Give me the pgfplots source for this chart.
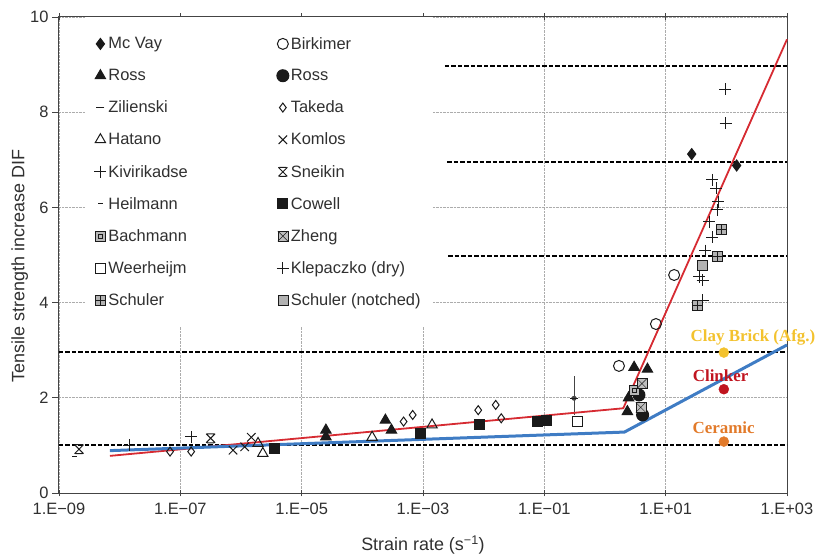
\documentclass[border=0pt]{standalone}
\usepackage{pgfplots}
\pgfplotsset{compat=1.18}
\usepackage{fontspec}
\setmainfont{Liberation Sans}
\newfontfamily\serifb{Liberation Serif}
\usetikzlibrary{plotmarks}

\definecolor{axgray}{HTML}{444444}
\definecolor{txtgray}{HTML}{303030}
\definecolor{redl}{HTML}{D62B32}
\definecolor{bluel}{HTML}{3F7CC4}
\definecolor{goldc}{HTML}{F3C22E}
\definecolor{clink}{HTML}{C0141F}
\definecolor{ceram}{HTML}{E27A2A}
\definecolor{mk}{HTML}{1A1A1A}

\pgfdeclareplotmark{sneikin}{%
  \pgfpathmoveto{\pgfqpoint{-\pgfplotmarksize}{-\pgfplotmarksize}}%
  \pgfpathlineto{\pgfqpoint{\pgfplotmarksize}{\pgfplotmarksize}}%
  \pgfpathmoveto{\pgfqpoint{-\pgfplotmarksize}{\pgfplotmarksize}}%
  \pgfpathlineto{\pgfqpoint{\pgfplotmarksize}{-\pgfplotmarksize}}%
  \pgfpathmoveto{\pgfqpoint{-0.8\pgfplotmarksize}{\pgfplotmarksize}}%
  \pgfpathlineto{\pgfqpoint{0.8\pgfplotmarksize}{\pgfplotmarksize}}%
  \pgfpathmoveto{\pgfqpoint{-0.8\pgfplotmarksize}{-\pgfplotmarksize}}%
  \pgfpathlineto{\pgfqpoint{0.8\pgfplotmarksize}{-\pgfplotmarksize}}%
  \pgfusepathqstroke}
\pgfdeclareplotmark{schuler}{%
  \pgfpathrectangle{\pgfqpoint{-\pgfplotmarksize}{-\pgfplotmarksize}}{\pgfqpoint{2\pgfplotmarksize}{2\pgfplotmarksize}}%
  \pgfusepathqfillstroke
  \pgfpathmoveto{\pgfqpoint{-\pgfplotmarksize}{0pt}}\pgfpathlineto{\pgfqpoint{\pgfplotmarksize}{0pt}}%
  \pgfpathmoveto{\pgfqpoint{0pt}{-\pgfplotmarksize}}\pgfpathlineto{\pgfqpoint{0pt}{\pgfplotmarksize}}%
  \pgfusepathqstroke}
\pgfdeclareplotmark{zheng}{%
  \pgfpathrectangle{\pgfqpoint{-\pgfplotmarksize}{-\pgfplotmarksize}}{\pgfqpoint{2\pgfplotmarksize}{2\pgfplotmarksize}}%
  \pgfusepathqfillstroke
  \pgfpathmoveto{\pgfqpoint{-\pgfplotmarksize}{-\pgfplotmarksize}}\pgfpathlineto{\pgfqpoint{\pgfplotmarksize}{\pgfplotmarksize}}%
  \pgfpathmoveto{\pgfqpoint{-\pgfplotmarksize}{\pgfplotmarksize}}\pgfpathlineto{\pgfqpoint{\pgfplotmarksize}{-\pgfplotmarksize}}%
  \pgfusepathqstroke}
\pgfdeclareplotmark{bachmann}{%
  \pgfpathrectangle{\pgfqpoint{-\pgfplotmarksize}{-\pgfplotmarksize}}{\pgfqpoint{2\pgfplotmarksize}{2\pgfplotmarksize}}%
  \pgfusepathqfillstroke
  \pgfpathrectangle{\pgfqpoint{-0.4\pgfplotmarksize}{-0.4\pgfplotmarksize}}{\pgfqpoint{0.8\pgfplotmarksize}{0.8\pgfplotmarksize}}%
  \pgfusepathqstroke}

\pgfplotsset{
  pts/.style={only marks, color=mk, mark options={solid, line width=1bp},
    legend image code/.code={\draw[mark repeat=2,mark phase=2,##1] plot coordinates {(0bp,0bp)(7bp,0bp)(14bp,0bp)};}},
  dline/.style={forget plot, black, line width=1.8bp, dash pattern=on 4.5bp off 2bp},
}

\begin{document}
\begin{tikzpicture}
\begin{axis}[
  name=ax,
  scale only axis, width=728bp, height=476bp,
  xmode=log, log basis x=10,
  xmin=1e-9, xmax=1e3, ymin=0, ymax=10,
  xtick={1e-9,1e-7,1e-5,1e-3,1e-1,1e1,1e3},
  xticklabels={1.E−09,1.E−07,1.E−05,1.E−03,1.E−01,1.E+01,1.E+03},
  minor xtick={},
  ytick={0,2,4,6,8,10},
  grid=major,
  major grid style={densely dotted, color=gray!65, line width=0.8bp},
  axis line style={axgray, line width=1bp},
  every tick/.style={axgray, line width=0.9bp},
  ytick pos=left,
  xtick align=center, ytick align=outside,
  major tick length=7bp,
  tick label style={font=\fontsize{16.5}{19}\selectfont, text=txtgray},
  /pgf/number format/assume math mode=true,
  xticklabel style={yshift=-3bp},
  xlabel={Strain rate (s\textsuperscript{−1})},
  ylabel={Tensile strength increase DIF},
  label style={font=\fontsize{18}{21}\selectfont, text=txtgray},
  xlabel style={at={(axis description cs:0.5,-0.109)}, anchor=center},
  ylabel style={at={(axis description cs:-0.054,0.477)}, anchor=center},
  clip=false,
  legend columns=2,
  legend cell align=left,
  legend style={at={(axis description cs:0.036,1)}, anchor=north west,
    draw=none, fill=white, inner xsep=9bp, inner ysep=18bp,
    font=\fontsize{16.5}{19}\selectfont, text=txtgray, row sep=14.75bp,
    /tikz/every even column/.append style={column sep=87bp}},
]
% dashed reference lines
\addplot[dline] coordinates {(2.3e-3,8.97) (1000,8.97)};
\addplot[dline] coordinates {(2.5e-3,6.95) (1000,6.95)};
\addplot[dline] coordinates {(2.6e-3,4.98) (1000,4.98)};
\addplot[dline] coordinates {(1e-9,2.96) (1000,2.96)};
\addplot[dline] coordinates {(1e-9,1.0) (1000,1.0)};

% error bar (Zilienski)
\addplot[forget plot, only marks, mark=none, color=axgray, line width=0.9bp,
  error bars/.cd, y dir=both, y explicit, error mark=-, error mark options={mark size=3bp, line width=0.9bp}]
  coordinates {(0.309,1.99) += (0,0.40) -= (0,0.28)};

% series (legend order: row-wise, two columns)
\addplot[pts, mark=diamond*, mark size=5.5bp] coordinates {(26.9,7.12) (148,6.88)};
\addlegendentry{Mc Vay}
\addplot[pts, mark=o, mark size=5.5bp] coordinates {(1.70,2.67) (6.92,3.55) (13.8,4.58)};
\addlegendentry{Birkimer}
\addplot[pts, mark=triangle*, mark size=6bp] coordinates {(2.51e-5,1.32) (2.51e-5,1.18) (2.40e-4,1.53) (3.02e-4,1.32) (3.02,2.64) (5.01,2.60) (2.34,1.71) (2.45,2.0)};
\addlegendentry{Ross}
\addplot[pts, mark=*, mark size=6bp] coordinates {(3.63,2.06) (4.17,1.64)};
\addlegendentry{Ross}
\addplot[pts, mark=-, mark size=4bp] coordinates {(0.309,1.99)};
\addlegendentry{Zilienski}
\addplot[pts, mark=diamond, mark size=4.5bp] coordinates {(6.76e-8,0.87) (1.51e-7,0.87) (4.79e-4,1.50) (6.76e-4,1.64) (8.13e-3,1.74) (1.58e-2,1.85) (1.95e-2,1.57)};
\addlegendentry{Takeda}
\addplot[pts, mark=triangle, mark size=6bp] coordinates {(1.91e-6,1.04) (2.29e-6,0.83) (1.45e-4,1.17) (1.41e-3,1.43)};
\addlegendentry{Hatano}
\addplot[pts, mark=x, mark size=6bp] coordinates {(7.41e-7,0.90) (1.15e-6,0.97) (1.48e-6,1.17)};
\addlegendentry{Komlos}
\addplot[pts, mark=+, mark size=6bp] coordinates {(1.45e-8,1.0) (1.51e-7,1.18)};
\addlegendentry{Kivirikadse}
\addplot[pts, mark=sneikin, mark size=4.5bp] coordinates {(2.14e-9,0.92) (3.16e-7,1.15)};
\addlegendentry{Sneikin}
\addplot[pts, mark=-, mark size=2.5bp] coordinates {(1.78e-9,0.76)};
\addlegendentry{Heilmann}
\addplot[pts, mark=square*, mark size=5bp] coordinates {(3.63e-6,0.94) (9.12e-4,1.25) (8.51e-3,1.43) (7.76e-2,1.50) (1.07e-1,1.53)};
\addlegendentry{Cowell}
\addplot[pts, mark=bachmann, mark size=5bp, mark options={fill=gray!55}] coordinates {(3.0,2.15)};
\addlegendentry{Bachmann}
\addplot[pts, mark=zheng, mark size=5bp, mark options={fill=gray!50}] coordinates {(4.07,2.30) (3.89,1.80)};
\addlegendentry{Zheng}
\addplot[pts, mark=square, mark size=5bp] coordinates {(0.355,1.50)};
\addlegendentry{Weerheijm}
\addplot[pts, mark=+, mark size=6bp] coordinates {(58.9,6.58) (67.6,6.40) (74.1,6.12) (70.8,5.95) (52.5,5.70) (58.9,5.37) (44.7,5.09) (35.5,4.54) (40.7,4.47) (40.7,4.05) (95.5,8.48) (97.7,7.77)};
\addlegendentry{Klepaczko (dry)}
\addplot[pts, mark=schuler, mark size=5bp, mark options={fill=gray!60}] coordinates {(33.1,3.95) (70.8,4.98) (81.3,5.54)};
\addlegendentry{Schuler}
\addplot[pts, mark=square*, mark size=5bp, mark options={fill=gray!60}] coordinates {(40.7,4.79)};
\addlegendentry{Schuler (notched)}

% fitted lines
\addplot[forget plot, redl, line width=1.8bp] coordinates {(6.92e-9,0.78) (2.0,1.78) (1000,9.53)};
\addplot[forget plot, bluel, line width=3bp] coordinates {(6.92e-9,0.89) (2.09,1.28) (1000,3.11)};

% masonry points
\addplot[forget plot, only marks, mark=*, mark size=5bp, goldc] coordinates {(91,2.95)};
\addplot[forget plot, only marks, mark=*, mark size=5bp, clink] coordinates {(91,2.18)};
\addplot[forget plot, only marks, mark=*, mark size=5bp, ceram] coordinates {(91,1.08)};
\node[font=\serifb\bfseries\fontsize{17}{20}\selectfont, text=goldc] at (axis cs:275,3.26) {Clay Brick (Afg.)};
\node[font=\serifb\bfseries\fontsize{17}{20}\selectfont, text=clink] at (axis cs:80.4,2.46) {Clinker};
\node[font=\serifb\bfseries\fontsize{17}{20}\selectfont, text=ceram] at (axis cs:90.2,1.37) {Ceramic};
\end{axis}
\pgfresetboundingbox
\path (ax.south west) ++(-59bp,-61bp) rectangle ++(819bp,554bp);
\end{tikzpicture}
\end{document}
